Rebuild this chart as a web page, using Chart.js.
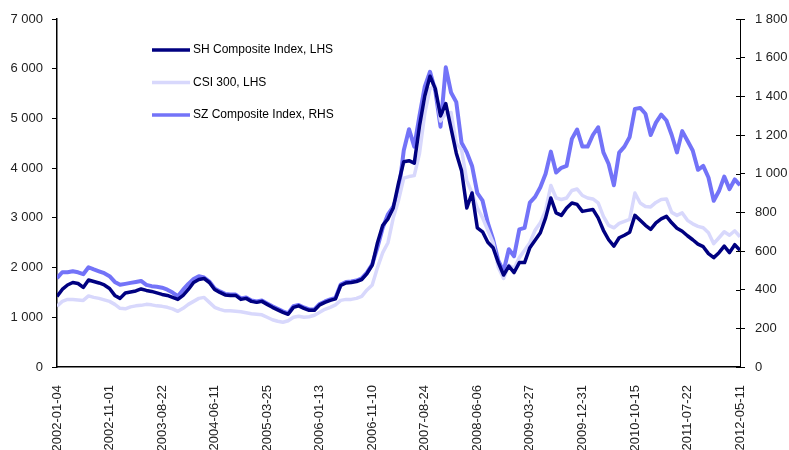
<!DOCTYPE html>
<html>
<head>
<meta charset="utf-8">
<title>SH / CSI300 / SZ</title>
<script src="https://cdn.jsdelivr.net/npm/chart.js@4.4.0/dist/chart.umd.min.js"></script>
<style>
  html, body { margin: 0; padding: 0; background: #fff; }
</style>
</head>
<body>
<canvas id="chart" width="789" height="450"></canvas>
<script>
// tick labels on the date axis (one every 10 points)
const tickDates = ['2002-01-04', '2002-11-01', '2003-08-22', '2004-06-11', '2005-03-25',
  '2006-01-13', '2006-11-10', '2007-08-24', '2008-06-06', '2009-03-27',
  '2009-12-31', '2010-10-15', '2011-07-22', '2012-05-11'];

// SH Composite Index (LHS)
const shIndex = [1420, 1560, 1650, 1700, 1680, 1600, 1750, 1720, 1690, 1650,
  1580, 1440, 1380, 1490, 1510, 1530, 1570, 1540, 1520, 1490,
  1460, 1440, 1400, 1360, 1440, 1560, 1700, 1760, 1780, 1700,
  1560, 1500, 1450, 1440, 1440, 1360, 1380, 1320, 1300, 1320,
  1260, 1200, 1150, 1100, 1060, 1200, 1230, 1180, 1140, 1140,
  1250, 1300, 1340, 1370, 1640, 1690, 1700, 1720, 1760, 1880,
  2050, 2500, 2850, 2980, 3200, 3700, 4130, 4150, 4100, 4850,
  5450, 5850, 5600, 5050, 5300, 4800, 4300, 3950, 3200, 3500,
  2800, 2720, 2510, 2400, 2100, 1850, 2030, 1900, 2100, 2100,
  2400, 2550, 2700, 3000, 3400, 3100, 3050, 3200, 3300, 3270,
  3130, 3150, 3170, 3000, 2750, 2560, 2430, 2600, 2650, 2710,
  3050, 2950, 2850, 2770, 2900, 2980, 3030, 2900, 2790, 2730,
  2640, 2560, 2470, 2420, 2280, 2200, 2300, 2430, 2300, 2460,
  2350];

// CSI 300 (LHS)
const csi300 = [1220, 1320, 1360, 1360, 1350, 1340, 1430, 1400, 1380, 1350,
  1320, 1260, 1180, 1170, 1210, 1230, 1240, 1260, 1250, 1230,
  1220, 1200, 1170, 1120, 1180, 1260, 1320, 1380, 1400, 1300,
  1200, 1160, 1130, 1130, 1120, 1110, 1090, 1070, 1060, 1050,
  1000, 950, 920, 900, 930, 1000, 1020, 1000, 1010, 1040,
  1100, 1160, 1200, 1250, 1340, 1360, 1360, 1380, 1420, 1550,
  1650, 2000, 2300, 2500, 3000, 3350, 3800, 3830, 3850, 4300,
  5100, 5600, 5650, 4950, 5100, 5120, 4500, 4370, 3750, 3500,
  3200, 3000, 2750, 2500, 2000, 1780, 2050, 1980, 2200, 2350,
  2500, 2750, 2900, 3150, 3650, 3400, 3370, 3400, 3550, 3580,
  3450, 3400, 3380, 3300, 3030, 2850, 2800, 2890, 2930, 2970,
  3500, 3300, 3230, 3220, 3310, 3370, 3380, 3110, 3050, 3100,
  2950, 2880, 2830, 2800, 2700, 2480, 2600, 2720, 2650, 2740,
  2620];

// SZ Composite Index (RHS)
const szIndex = [460, 490, 490, 495, 490, 480, 516, 505, 495, 485,
  470, 440, 425, 430, 435, 440, 445, 425, 418, 415,
  410, 400, 385, 366, 400, 430, 455, 470, 463, 442,
  406, 391, 378, 375, 375, 355, 360, 344, 339, 344,
  329, 314, 301, 288, 278, 314, 321, 308, 298, 298,
  326, 339, 350, 357, 427, 440, 442, 447, 458, 488,
  531, 620, 720, 790, 830, 900, 1120, 1230, 1140, 1300,
  1450, 1527, 1430, 1243, 1550, 1420, 1370, 1160, 1110, 1040,
  900, 860, 745, 660, 550, 495, 609, 573, 712, 720,
  850, 880, 930, 1000, 1114, 1006, 1030, 1040, 1180, 1228,
  1140, 1140, 1200, 1240, 1110, 1050, 940, 1109, 1140, 1190,
  1335, 1340, 1310, 1200, 1264, 1305, 1275, 1200, 1110, 1220,
  1170, 1120, 1020, 1040, 980, 860, 910, 985, 920, 970,
  940];

const FONT = '"Liberation Sans", Arial, sans-serif';

// points go on a linear index axis, 10 points between date labels
const toPoints = arr => arr.map((v, i) => ({ x: i, y: v }));

// "7 000" style numbers
const fmt = v => v >= 1000 ? Math.floor(v / 1000) + ' ' + String(v % 1000).padStart(3, '0') : String(v);

// legend sits inside the plot, top left
const insideLegend = {
  id: 'insideLegend',
  afterDraw(chart) {
    const ctx = chart.ctx;
    ctx.save();
    ctx.font = '12px ' + FONT;
    ctx.textBaseline = 'middle';
    chart.data.datasets.forEach((ds, i) => {
      const y = 50 + i * 32.5;
      ctx.strokeStyle = ds.borderColor;
      ctx.lineWidth = 3.5;
      ctx.beginPath();
      ctx.moveTo(152, y);
      ctx.lineTo(190, y);
      ctx.stroke();
      ctx.fillStyle = '#000';
      ctx.fillText(ds.label, 193, y);
    });
    ctx.restore();
  }
};

// right axis ticks cross the axis line
const crossTicks = {
  id: 'crossTicks',
  afterDraw(chart) {
    const s = chart.scales.yR;
    const ctx = chart.ctx;
    ctx.save();
    ctx.strokeStyle = '#000';
    ctx.lineWidth = 1;
    s.ticks.forEach(t => {
      const y = Math.round(s.getPixelForValue(t.value)) + 0.5;
      ctx.beginPath();
      ctx.moveTo(s.left - 4, y);
      ctx.lineTo(s.left, y);
      ctx.stroke();
    });
    ctx.restore();
  }
};

new Chart(document.getElementById('chart'), {
  type: 'line',
  data: {
    datasets: [
      { label: 'SH Composite Index, LHS', data: toPoints(shIndex), borderColor: '#000080', borderWidth: 3.5, yAxisID: 'y' },
      { label: 'CSI 300, LHS', data: toPoints(csi300), borderColor: '#d8d8fc', borderWidth: 3.5, yAxisID: 'y' },
      { label: 'SZ Composite Index, RHS', data: toPoints(szIndex), borderColor: '#7373f8', borderWidth: 4, yAxisID: 'yR' }
    ]
  },
  options: {
    responsive: false,
    animation: false,
    layout: { padding: { top: 19, left: 0, right: 0, bottom: 0 } },
    elements: { point: { radius: 0 }, line: { tension: 0, borderJoinStyle: 'round' } },
    plugins: { legend: { display: false }, tooltip: { enabled: false } },
    scales: {
      x: {
        type: 'linear',
        min: 0,
        max: 130,
        grid: { display: false },
        border: { color: '#000', width: 1.5 },
        ticks: {
          stepSize: 10,
          autoSkip: false,
          maxRotation: 90,
          minRotation: 90,
          padding: 10,
          color: '#222',
          font: { family: FONT, size: 13 },
          callback: v => tickDates[v / 10] || ''
        },
        afterFit: s => { s.height = 83; }
      },
      y: {
        position: 'left',
        min: 0,
        max: 7000,
        grid: { drawOnChartArea: false, tickLength: 5, color: '#000' },
        border: { color: '#000', width: 1.5 },
        ticks: { stepSize: 1000, padding: 9, color: '#222', font: { family: FONT, size: 13 }, callback: fmt },
        afterFit: s => { s.width = 57; }
      },
      yR: {
        position: 'right',
        min: 0,
        max: 1800,
        grid: { drawOnChartArea: false, tickLength: 5, color: '#000' },
        border: { color: '#000', width: 1 },
        ticks: { stepSize: 200, padding: 10, color: '#222', font: { family: FONT, size: 13 }, callback: fmt },
        afterFit: s => { s.width = 49; }
      }
    }
  },
  plugins: [insideLegend, crossTicks]
});
</script>
</body>
</html>
